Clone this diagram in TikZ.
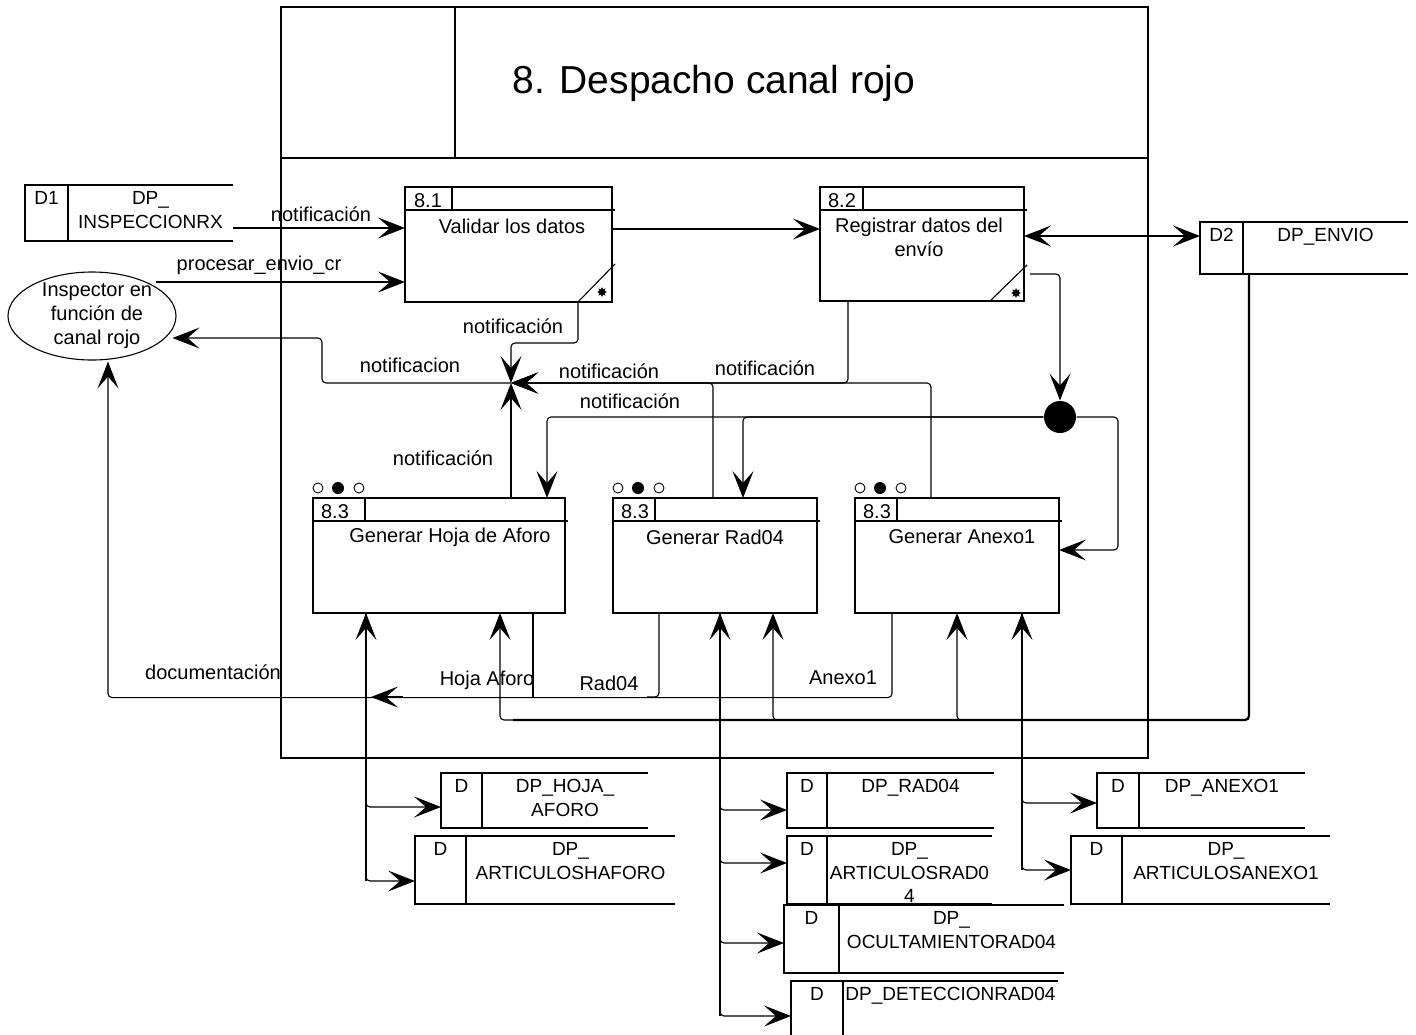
\documentclass[tikz,border=0pt]{standalone}
\usepackage{fontspec}
\setmainfont{Liberation Sans}
\usetikzlibrary{arrows.meta,calc,shapes.geometric}
\newcommand{\lblfont}{\fontsize{20}{24}\selectfont}
\newcommand{\storefont}{\fontsize{19}{23.5}\selectfont}
\newcommand{\titlefont}{\fontsize{39}{44}\selectfont}
% data store: name, left x, top y, width, height, divider offset, id, label
\newcommand{\dstore}[8]{%
  \node[store, minimum width=#4pt, minimum height=#5pt] (#1) at (#2,#3) {};
  \draw (#1.north east) -- (#1.north west) -- (#1.south west) -- (#1.south east);
  \draw ($(#1.north west)+(#6,0)$) -- ($(#1.south west)+(#6,0)$);
  \node[stxt] at ($(#1.north west)+({#6/2},6)$) {#7};
  \node[stxt] at ($(#1.north west)+({(#6+#4)/2},6)$) {#8};
}
\begin{document}
\begin{tikzpicture}[x=1pt,y=-1pt,line width=1.1pt,
  flowtip/.tip={Stealth[length=27pt,width=21pt,inset=12pt]},
  flow/.style={draw,-flowtip,rounded corners=4pt},
  bflow/.style={draw,flowtip-flowtip},
  bus/.style={draw,line width=2.2pt,rounded corners=4pt},
  proc/.style={draw,rectangle,anchor=north west,inner sep=0,outer sep=0},
  store/.style={rectangle,anchor=north west,inner sep=0,outer sep=0},
  stxt/.style={anchor=north,align=center,inner sep=0,font=\storefont},
  lbl/.style={inner sep=0,font=\lblfont},
  open dot/.style={draw,circle,minimum size=10pt,inner sep=0,line width=0.9pt},
  full dot/.style={fill,circle,minimum size=12pt,inner sep=0},
  corner star/.style={star,star points=8,star point ratio=1.8,fill,inner sep=0,minimum size=10pt}]
\useasboundingbox (0,0) rectangle (1416,1034);

% frame of the diagram
\draw (281,7) rectangle (1148,758);
\draw (281,158) -- (1148,158);
\draw (455,7) -- (455,158);
\node[inner sep=0,font=\titlefont] (title) at (714,83) {8. Despacho canal rojo};

% external entity
\node[draw,ellipse,minimum width=168pt,minimum height=88pt,inner sep=0] (insp) at (92,316) {};
\node[lbl,align=center] (insptxt) at (97,316) {Inspector en\\función de\\canal rojo};

% top data stores
\dstore{d1}{25}{185}{208}{56}{43}{D1}{DP\_\\INSPECCIONRX}
\dstore{d2}{1200}{222}{208}{52}{43}{D2}{DP\_ENVIO}

% process 8.1
\node[proc,minimum width=207pt,minimum height=115pt] (p81) at (405,187) {};
\draw ($(p81.north west)+(0,23)$) -- ($(p81.north east)+(3,23)$);
\draw ($(p81.north west)+(47,0)$) -- ++(0,23);
\node[lbl] (n81) at (428,201) {8.1};
\node[lbl] (t81) at (512,226) {Validar los datos};
\draw ($(p81.south east)+(-34,0)$) -- ($(p81.south east)+(3,-38)$);
\node[corner star] (s81) at ($(p81.south east)+(-10,-10)$) {};

% process 8.2
\node[proc,minimum width=204pt,minimum height=114pt] (p82) at (820,187) {};
\draw ($(p82.north west)+(0,23)$) -- ($(p82.north east)+(3,23)$);
\draw ($(p82.north west)+(43,0)$) -- ++(0,23);
\node[lbl] (n82) at (842,201) {8.2};
\node[lbl,align=center] (t82) at (919,237) {Registrar datos del\\envío};
\draw ($(p82.south east)+(-34,0)$) -- ($(p82.south east)+(3,-36)$);
\node[corner star] (s82) at ($(p82.south east)+(-8,-8)$) {};

% processes 8.3
\node[proc,minimum width=252pt,minimum height=115pt] (p83a) at (313,498) {};
\node[proc,minimum width=204pt,minimum height=115pt] (p83b) at (613,498) {};
\node[proc,minimum width=204pt,minimum height=115pt] (p83c) at (855,498) {};
\foreach \p/\d in {p83a/52,p83b/42,p83c/42}{
  \draw ($(\p.north west)+(0,23)$) -- ($(\p.north east)+(3,23)$);
  \draw ($(\p.north west)+(\d,0)$) -- ++(0,23);
  \node[open dot] at ($(\p.north west)+(5,-10)$) {};
  \node[full dot] at ($(\p.north west)+(25,-10)$) {};
  \node[open dot] at ($(\p.north west)+(46,-10)$) {};
}
\node[lbl] (n83a) at (335,512) {8.3};
\node[lbl] (n83b) at (635,512) {8.3};
\node[lbl] (n83c) at (877,512) {8.3};
\node[lbl] (t83a) at (450,537) {Generar Hoja de Aforo};
\node[lbl] (t83b) at (715,537) {Generar Rad04};
\node[lbl] (t83c) at (962,537) {Generar Anexo1};

% bottom data stores
\dstore{dhoja}{441}{773}{207}{55}{41}{D}{DP\_HOJA\_\\AFORO}
\dstore{darth}{415}{836}{260}{68}{51}{D}{DP\_\\ARTICULOSHAFORO}
\dstore{drad}{787}{773}{207}{55}{40}{D}{DP\_RAD04}
\dstore{dartr}{787}{836}{205}{68}{40}{D}{DP\_\\ARTICULOSRAD0\\4}
\dstore{docul}{784}{905}{280}{68}{55}{D}{DP\_\\OCULTAMIENTORAD04}
\dstore{ddet}{791}{981}{267}{75}{52}{D}{DP\_DETECCIONRAD04}
\dstore{danx}{1097}{773}{208}{55}{42}{D}{DP\_ANEXO1}
\dstore{darta}{1071}{836}{259}{68}{51}{D}{DP\_\\ARTICULOSANEXO1}

% synchronisation point and collecting point
\node[circle,fill,minimum size=32pt,inner sep=0] (sync) at (1060,417) {};
\coordinate (jn) at (511,383);

% flows at the top
\draw[flow] ([yshift=-15pt]d1.east) coordinate (d1out) -- (d1out -| p81.west);
\node[lbl] (l1) at (321,214) {notificación};
\draw[flow] ($(insp.east)+(-21,-34)$) -- ($(p81.north west)+(0,95)$);
\node[lbl] (l2) at (259,265) {procesar\_envio\_cr};
\draw[flow] ($(p81.north east)+(0,42)$) -- ($(p82.north west)+(0,42)$);
\draw[bflow] ($(p82.north east)+(0,49)$) -- ($(d2.north west)+(0,14)$);

% notifications gathered at the collecting point
\draw[flow] ($(p81.south west)+(173,0)$) |- ($(jn)+(0,-40)$) -- (jn);
\node[lbl] (l3) at (513,326) {notificación};
\draw[flow] ($(p82.south west)+(28,0)$) |- (jn);
\draw[flow] ($(p83c.north west)+(76,0)$) |- (jn);
\draw[flow] ($(p83b.north west)+(100,0)$) |- (jn);
\node[lbl] (l4) at (609,371) {notificación};
\node[lbl] (l5) at (765,368) {notificación};
\draw[flow] (jn |- p83a.north) -- (jn);
\node[lbl] (l6) at (443,458) {notificación};
\draw[flow] (jn) -| ($(jn)+(-189,-45)$) -- ($(insp.east)+(-4,22)$);
\node[lbl] (l7) at (410,365) {notificacion};

% flows through the synchronisation point
\draw[flow] ($(p82.south east)+(6,-27)$) -| (sync.north);
\draw[flow] (sync.west) -| ($(p83a.north west)+(234,0)$);
\draw[flow] (sync.west) -| ($(p83b.north west)+(130,0)$);
\node[lbl] (l8) at (630,401) {notificación};
\draw[flow] (sync.east) -| ($(p83c.north east)+(59,52)$) -- ($(p83c.north east)+(0,52)$);

% documentation returned to the inspector
\draw[flow] ($(p83c.south west)+(37,0)$) |- ($(insp.south)+(16,337)$) -- ($(insp.south)+(16,1)$);
\draw[flow] ($(p83a.south west)+(90,84)$) -- ($(p83a.south west)+(58,84)$);
\draw ($(p83a.south west)+(220,0)$) -- ++(0,84);
\draw[rounded corners=4pt] ($(p83b.south west)+(46,0)$) |- ++(-12,84);
\node[lbl] (l9) at (213,672) {documentación};
\node[lbl] (l10) at (487,680) {Hoja Aforo};
\node[lbl] (l11) at (609,683) {Rad04};
\node[lbl] (l12) at (843,678) {Anexo1};

% shipment data read by the three generators
\draw[bus] ($(d2.south west)+(49,0)$) |- ($(p83a.south west)+(200,107)$);
\draw[flow] ($(p83a.south west)+(200,107)$) -| ($(p83a.south west)+(187,0)$);
\draw[flow] ($(p83b.south west)+(173,107)$) -| ($(p83b.south west)+(160,0)$);
\draw[flow] ($(p83c.south west)+(115,107)$) -| ($(p83c.south west)+(102,0)$);

% Hoja de Aforo and its stores
\draw[flow] ($(p83a.south west)+(53,268)$) -- ($(p83a.south west)+(53,0)$);
\draw[flow] ($(p83a.south west)+(53,0)$) |- ([yshift=-6.5pt]dhoja.west);
\draw[flow] ($(p83a.south west)+(53,0)$) |- ([yshift=-11pt]darth.west);

% Rad04 and its stores
\draw[line width=2.8pt] ($(p83b.south west)+(107,30)$) -- ($(p83b.south west)+(107,292)$);
\draw[flow] ($(p83b.south west)+(107,403)$) -- ($(p83b.south west)+(107,0)$);
\draw[flow] ($(p83b.south west)+(107,0)$) |- ([yshift=-9.5pt]drad.west);
\draw[flow] ($(p83b.south west)+(107,0)$) |- ([yshift=7pt]dartr.west);
\draw[flow] ($(p83b.south west)+(107,0)$) |- ([yshift=-4pt]docul.west);
\draw[flow] ($(p83b.south west)+(107,0)$) |- ($(ddet.north west)+(0,35)$);

% Anexo1 and its stores
\draw[flow] ($(p83c.south west)+(167,257)$) -- ($(p83c.south west)+(167,0)$);
\draw[flow] ($(p83c.south west)+(167,0)$) |- ([yshift=-2.5pt]danx.west);
\draw[flow] ($(p83c.south west)+(167,0)$) |- (darta.west);
\end{tikzpicture}
\end{document}
